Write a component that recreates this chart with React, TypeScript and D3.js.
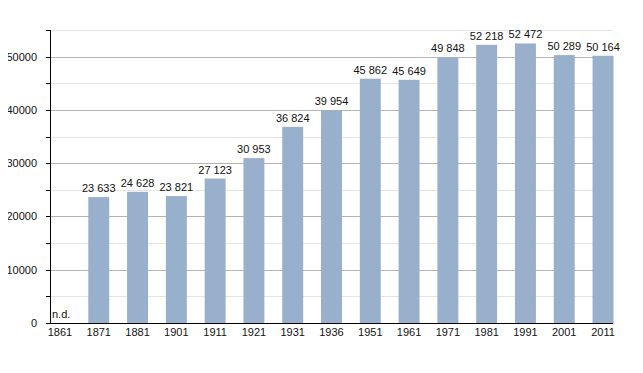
import React, { useRef, useEffect } from 'react';
import * as d3 from 'd3';

const years = ['1861', '1871', '1881', '1901', '1911', '1921', '1931', '1936', '1951', '1961', '1971', '1981', '1991', '2001', '2011'];
const population: (number | null)[] = [null, 23633, 24628, 23821, 27123, 30953, 36824, 39954, 45862, 45649, 49848, 52218, 52472, 50289, 50164];
const yTicks = [0, 10000, 20000, 30000, 40000, 50000];
const yMinorTicks = [5000, 15000, 25000, 35000, 45000, 55000];

const width = 643;
const height = 373;
const left = 50;
const right = 613;
const top = 30;
const bottom = 323;

const frLocale = d3.formatLocale({ decimal: ',', thousands: ' ', grouping: [3], currency: ['', ' €'] });
const fmt = frLocale.format(',d');

const App = () => {
  const svgRef = useRef<SVGSVGElement>(null);

  useEffect(() => {
    const svg = d3.select(svgRef.current);
    svg.selectAll('*').remove();

    const x = d3.scaleBand<string>()
      .domain(years)
      .range([49.5, 613.5])
      .paddingInner(0.46)
      .paddingOuter(0);

    const y = d3.scaleLinear().domain([0, 55000]).range([bottom, top]);

    const g = svg.append('g').attr('font-family', 'Liberation Sans, Arial, sans-serif').attr('font-size', 11);

    // minor grid
    g.selectAll('.minor')
      .data(yMinorTicks)
      .enter()
      .append('line')
      .attr('x1', left)
      .attr('x2', right)
      .attr('y1', d => Math.round(y(d)) + 0.5)
      .attr('y2', d => Math.round(y(d)) + 0.5)
      .attr('stroke', '#e4e4e4');

    // major grid
    g.selectAll('.major')
      .data(yTicks.slice(1))
      .enter()
      .append('line')
      .attr('x1', left)
      .attr('x2', right)
      .attr('y1', d => Math.round(y(d)) + 0.5)
      .attr('y2', d => Math.round(y(d)) + 0.5)
      .attr('stroke', '#b4b4b4');

    // bars
    const rows = years.map((yr, i) => ({ yr, v: population[i] }));
    g.selectAll('.bar')
      .data(rows.filter(d => d.v !== null))
      .enter()
      .append('rect')
      .attr('x', d => x(d.yr)!)
      .attr('width', x.bandwidth())
      .attr('y', d => y(d.v as number))
      .attr('height', d => bottom - y(d.v as number))
      .attr('fill', '#98b0cb');

    // value labels
    g.selectAll('.val')
      .data(rows)
      .enter()
      .append('text')
      .attr('x', d => d.v === null ? left + 2 : x(d.yr)! + x.bandwidth() / 2)
      .attr('y', d => d.v === null ? bottom - 5 : y(d.v) - 5)
      .attr('text-anchor', d => d.v === null ? 'start' : 'middle')
      .attr('fill', '#111')
      .text(d => d.v === null ? 'n.d.' : fmt(d.v));

    // axes
    g.append('line')
      .attr('x1', left + 0.5).attr('x2', left + 0.5)
      .attr('y1', top).attr('y2', bottom)
      .attr('stroke', '#000');
    g.append('line')
      .attr('x1', left).attr('x2', right)
      .attr('y1', bottom + 0.5).attr('y2', bottom + 0.5)
      .attr('stroke', '#000');

    g.selectAll('.ytick')
      .data([...yTicks, ...yMinorTicks])
      .enter()
      .append('line')
      .attr('x1', left - 4)
      .attr('x2', left)
      .attr('y1', d => Math.round(y(d)) + 0.5)
      .attr('y2', d => Math.round(y(d)) + 0.5)
      .attr('stroke', '#000');

    g.selectAll('.ylab')
      .data(yTicks)
      .enter()
      .append('text')
      .attr('x', 37)
      .attr('y', d => y(d) + 4)
      .attr('text-anchor', 'end')
      .attr('fill', '#111')
      .text(d => String(d));

    g.selectAll('.xlab')
      .data(years)
      .enter()
      .append('text')
      .attr('x', d => x(d)! + x.bandwidth() / 2)
      .attr('y', bottom + 13)
      .attr('text-anchor', 'middle')
      .attr('fill', '#111')
      .text(d => d);
  }, []);

  return (
    <svg ref={svgRef} width={width} height={height} style={{ display: 'block', margin: -8 }}></svg>
  );
};

export default App;
